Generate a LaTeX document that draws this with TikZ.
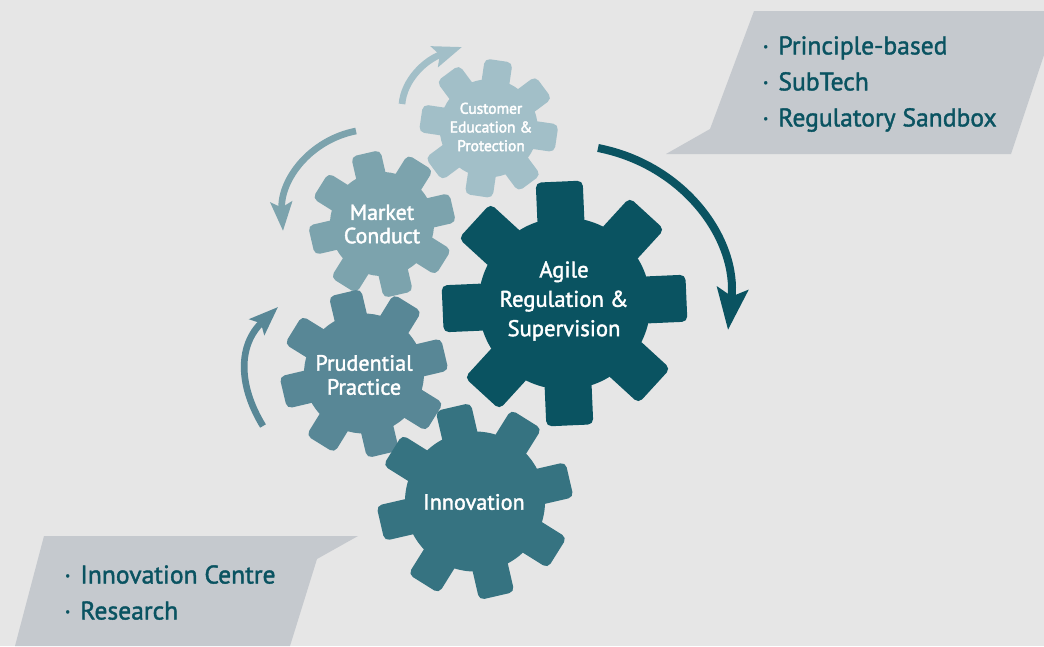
\documentclass[tikz,border=0pt]{standalone}
\usepackage{fontspec}
\setmainfont{PT Sans}
\usetikzlibrary{arrows.meta}
\definecolor{bgcol}{HTML}{E6E6E6}
\definecolor{panelcol}{HTML}{C5C9CE}
\definecolor{agilecol}{HTML}{0A5361}
\definecolor{innovcol}{HTML}{367381}
\definecolor{prudcol}{HTML}{588796}
\definecolor{marketcol}{HTML}{7CA3AD}
\definecolor{custcol}{HTML}{A2BFC8}
\newcommand{\heavier}{\special{pdf:code 2 Tr 0.3 w}}
\tikzset{
  geartext/.style={text=white,align=center,inner sep=0pt},
  paneltext/.style={text=agilecol,align=left,anchor=north west,inner sep=0pt,font=\fontsize{19.2}{27}\selectfont\heavier},
  turn/.style={-{Stealth[length=#1*1.35,width=#1,inset=#1*0.25]}},
}
% #1 centre, #2 rotation, #3 body radius, #4 tip radius, #5 half tooth, #6 colour
\newcommand{\gearwheel}[6]{
\begin{scope}[shift={(#1)},rotate=#2]
\fill[#6] (0,0) circle (#3);
\foreach \a in {0,45,...,315} {
\fill[#6,rounded corners=4pt,rotate=\a] (-#5,-#3+8) rectangle (#5,-#4);
}
\end{scope}
}
\begin{document}
\begin{tikzpicture}[x=0.75pt,y=-0.75pt]
\fill[bgcol] (0,0) rectangle (1044,646);
\useasboundingbox (0,0) rectangle (1044,646);
% panels
\fill[panelcol] (754,11) -- (1044,11) -- (1044,55) -- (1011,154) -- (666,154) -- (710,129) -- cycle;
\fill[panelcol] (44,536) -- (358,536) -- (317,559) -- (290,646) -- (15,646) -- cycle;
\node[paneltext] (toplist) at (762,36) {·\hspace{7pt}Principle-based\\·\hspace{7pt}SubTech\\·\hspace{7pt}Regulatory Sandbox};
\node[paneltext] (bottomlist) at (64,565) {·\hspace{7pt}Innovation Centre\\·\hspace{7pt}Research};
% gears
\gearwheel{488.7,128.3}{-8.4}{49}{68.5}{14}{custcol}
\gearwheel{382,224}{13}{52}{72.5}{15}{marketcol}
\gearwheel{364,373.5}{13.3}{60}{83}{16.5}{prudcol}
\gearwheel{475,501.5}{13}{70}{97}{18}{innovcol}
\gearwheel{564.5,303.5}{2.5}{86}{122}{23.5}{agilecol}
\node[geartext,font=\fontsize{11.6}{14}\selectfont\heavier] (customer) at (491,127) {Customer\\Education \&\\Protection};
\node[geartext,font=\fontsize{16.4}{17.5}\selectfont\heavier] (market) at (382,224) {Market\\Conduct};
\node[geartext,font=\fontsize{16.6}{18}\selectfont\heavier] (prudential) at (364,375) {Prudential\\Practice};
\node[geartext,font=\fontsize{16.6}{18}\selectfont\heavier] (innovation) at (474,502) {Innovation};
\node[geartext,font=\fontsize{17}{22}\selectfont\heavier] (agile) at (564,301) {Agile\\Regulation \&\\Supervision};
% turning arrows
\draw[turn=23pt,agilecol,line width=6pt] (598,148) .. controls (685,165) and (738,240) .. (728,330);
\draw[turn=16pt,custcol,line width=5pt] (402,104) .. controls (404,80) and (425,60) .. (462,47);
\draw[turn=16pt,marketcol,line width=5pt] (356,131) .. controls (310,140) and (280,180) .. (283,231);
\draw[turn=16pt,prudcol,line width=5pt] (263,426) .. controls (238,385) and (238,345) .. (278,307);
\end{tikzpicture}
\end{document}
